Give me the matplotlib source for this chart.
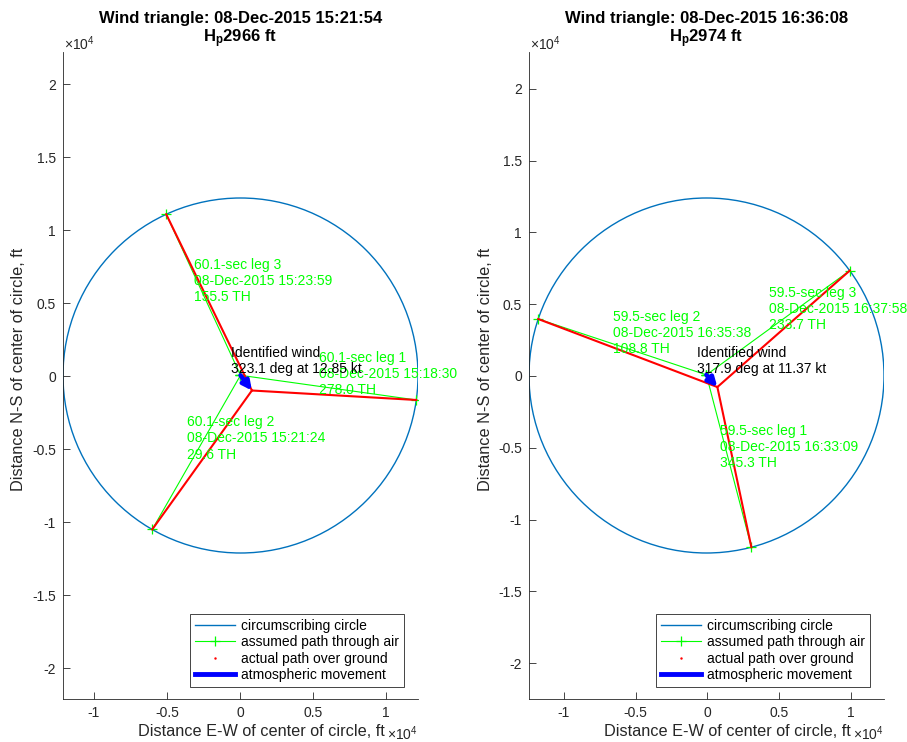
import numpy as np
import matplotlib
matplotlib.use("Agg")
import matplotlib.pyplot as plt
from matplotlib.lines import Line2D
from matplotlib.patches import Circle

plt.rcParams["font.family"] = ["Liberation Sans", "DejaVu Sans"]
plt.rcParams["mathtext.fontset"] = "custom"
plt.rcParams["mathtext.rm"] = "Liberation Sans"
plt.rcParams["mathtext.it"] = "Liberation Sans:italic"
plt.rcParams["mathtext.bf"] = "Liberation Sans:bold"

KT_TO_FTPS = 1.68781
DATE = "08-Dec-2015"

# ---- first wind triangle ----
a_time = "15:21:54"
a_alt_ft = 2966
a_leg_sec = 60.1
a_leg_times = ["15:18:30", "15:21:24", "15:23:59"]
a_heading = [278.0, 29.6, 155.5]
a_start_x = [12080, -6010, -5050]
a_start_y = [-1640, -10510, 11080]
a_ground_end = (820, -990)
a_wind_dir = 323.1
a_wind_kt = 12.85

# ---- second wind triangle ----
b_time = "16:36:08"
b_alt_ft = 2974
b_leg_sec = 59.5
b_leg_times = ["16:33:09", "16:35:38", "16:37:58"]
b_heading = [345.3, 108.8, 233.7]
b_start_x = [3070, -11780, 9920]
b_start_y = [-11930, 3970, 7340]
b_ground_end = (700, -770)
b_wind_dir = 317.9
b_wind_kt = 11.37

FIG_W, FIG_H = 907, 742
AX_W, AX_H = 355, 647
AXCOL = (0.15, 0.15, 0.15)
CIRC_COL = "#0072BD"


def circumcircle(xs, ys):
    (x1, x2, x3), (y1, y2, y3) = xs, ys
    d = 2 * (x1 * (y2 - y3) + x2 * (y3 - y1) + x3 * (y1 - y2))
    s1, s2, s3 = x1**2 + y1**2, x2**2 + y2**2, x3**2 + y3**2
    cx = (s1 * (y2 - y3) + s2 * (y3 - y1) + s3 * (y1 - y2)) / d
    cy = (s1 * (x3 - x2) + s2 * (x1 - x3) + s3 * (x2 - x1)) / d
    r = np.hypot(x1 - cx, y1 - cy)
    return cx, cy, r


def draw_panel(ax, time, alt, leg_sec, leg_times, heading, sx, sy,
               ground_end, wind_dir, wind_kt):
    sx = np.asarray(sx, float)
    sy = np.asarray(sy, float)
    cx, cy, r = circumcircle(sx, sy)

    # wind drift over one leg (wind blows toward wind_dir + 180)
    drift = wind_kt * KT_TO_FTPS * leg_sec
    to_dir = np.deg2rad(wind_dir + 180.0)
    gx, gy = ground_end
    ax_end = gx - drift * np.sin(to_dir)
    ay_end = gy - drift * np.cos(to_dir)

    ax.add_patch(Circle((cx, cy), r, fill=False, color=CIRC_COL, lw=1.0))

    for i in range(3):
        ax.plot([sx[i], ax_end], [sy[i], ay_end], color="#00FF00", lw=0.8,
                marker="+", markersize=7, markeredgewidth=0.9)
    for i in range(3):
        ax.plot([sx[i], gx], [sy[i], gy], color="red", lw=1.5)

    ax.annotate("", xy=(gx, gy), xytext=(ax_end, ay_end),
                arrowprops=dict(arrowstyle="-|>", color="blue", lw=3.2,
                                mutation_scale=13, shrinkA=0, shrinkB=0))

    for i in range(3):
        mx = (sx[i] + ax_end) / 2
        my = (sy[i] + ay_end) / 2
        txt = f"{leg_sec:.1f}-sec leg {i + 1}\n{DATE} {leg_times[i]}\n{heading[i]:.1f} TH"
        ax.annotate(txt, xy=(mx, my), xytext=(-6.5, 10), textcoords="offset points",
                    ha="left", va="center", color="#00FF00", fontsize=10,
                    linespacing=1.2)

    ax.annotate(f"Identified wind\n{wind_dir:.1f} deg at {wind_kt:.2f} kt",
                xy=(ax_end, ay_end), xytext=(-7, 10), textcoords="offset points",
                ha="left", va="center", color="black", fontsize=10, linespacing=1.2)

    half_y = r * AX_H / AX_W
    ax.set_xlim(cx - r, cx + r)
    ax.set_ylim(cy - half_y, cy + half_y)

    xt = np.arange(-1.0, 1.01, 0.5) * 1e4
    yt = np.arange(-2.0, 2.01, 0.5) * 1e4
    ax.set_xticks(xt)
    ax.set_xticklabels([f"{v / 1e4:g}" for v in xt])
    ax.set_yticks(yt)
    ax.set_yticklabels([f"{v / 1e4:g}" for v in yt])
    ax.tick_params(direction="in", length=4.7, width=0.6, colors=AXCOL,
                   labelsize=10, pad=5)
    for side in ("top", "right"):
        ax.spines[side].set_visible(False)
    for side in ("left", "bottom"):
        ax.spines[side].set_color(AXCOL)
        ax.spines[side].set_linewidth(0.6)

    ax.annotate(r"$\times10^{4}$", xy=(0, 1), xycoords="axes fraction",
                xytext=(1, -1), textcoords="offset points", ha="left",
                va="bottom", fontsize=10, color=AXCOL)
    ax.annotate(r"$\times10^{4}$", xy=(1, 0), xycoords="axes fraction",
                xytext=(0, -25), textcoords="offset points", ha="right",
                va="center", fontsize=10, color=AXCOL)

    ax.set_xlabel("Distance E-W of center of circle, ft", fontsize=11.7,
                  color=AXCOL, va="center")
    ax.xaxis.set_label_coords(0.56, -32.0 / AX_H)
    ax.set_ylabel("Distance N-S of center of circle, ft", fontsize=11.7,
                  color=AXCOL, va="center")
    ax.yaxis.set_label_coords(-44.0 / AX_W, 0.51)

    ax.set_title(f"Wind triangle: {DATE} {time}\n" + r"H$_{\mathbf{p}}$" + f"{alt} ft",
                 fontsize=12, fontweight="bold", pad=7, linespacing=1.1)

    handles = [
        Line2D([], [], color=CIRC_COL, lw=1.0),
        Line2D([], [], color="#00FF00", lw=0.8, marker="+", markersize=7,
               markeredgewidth=0.9),
        Line2D([], [], color="red", ls="none", marker=".", markersize=1.5),
        Line2D([], [], color="blue", lw=3.5),
    ]
    labels = ["circumscribing circle", "assumed path through air",
              "actual path over ground", "atmospheric movement"]
    leg = ax.legend(handles, labels, loc="lower right",
                    bbox_to_anchor=(1 - 14 / AX_W, 12 / AX_H),
                    borderaxespad=0, fontsize=10, handlelength=2.9,
                    handletextpad=0.43, labelspacing=0.18, borderpad=0.35,
                    fancybox=False, framealpha=1)
    leg.get_frame().set_edgecolor(AXCOL)
    leg.get_frame().set_linewidth(0.6)


fig = plt.figure(figsize=(FIG_W / 100, FIG_H / 100), dpi=100)
ax1 = fig.add_axes([63 / FIG_W, 43 / FIG_H, AX_W / FIG_W, AX_H / FIG_H])
ax2 = fig.add_axes([529 / FIG_W, 43 / FIG_H, AX_W / FIG_W, AX_H / FIG_H])

draw_panel(ax1, a_time, a_alt_ft, a_leg_sec, a_leg_times, a_heading,
           a_start_x, a_start_y, a_ground_end, a_wind_dir, a_wind_kt)
draw_panel(ax2, b_time, b_alt_ft, b_leg_sec, b_leg_times, b_heading,
           b_start_x, b_start_y, b_ground_end, b_wind_dir, b_wind_kt)

fig.savefig("out.png", dpi=100)
